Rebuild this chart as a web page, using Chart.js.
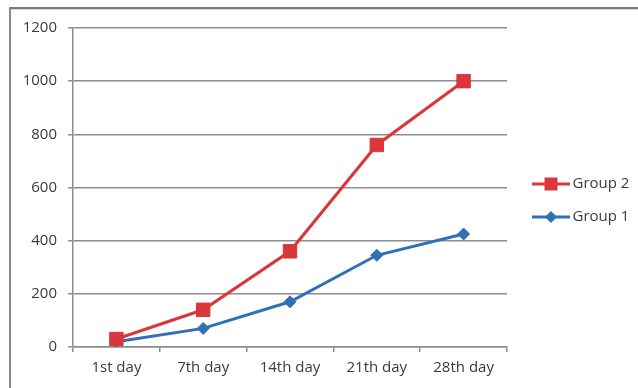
<!DOCTYPE html>
<html>
<head>
<meta charset="utf-8">
<script src="https://cdn.jsdelivr.net/npm/chart.js@4/dist/chart.umd.min.js"></script>
<style>
  html, body { margin: 0; padding: 0; background: #ffffff; }
  #wrap { position: relative; width: 638px; height: 388px; overflow: hidden; }
  #frame {
    position: absolute; left: 9px; top: 7px; width: 700px; height: 420px;
    border-top: 2px solid #7d7d7d; border-left: 2px solid #8a8a8a;
    box-shadow: inset 0 1px 0 #d4d8d8;
  }
  canvas { position: absolute; left: 0; top: 0; }
</style>
</head>
<body>
<div id="wrap">
  <div id="frame"></div>
  <canvas id="c" width="638" height="388"></canvas>
</div>
<script>
// Measurement days and the two groups' values
const days = ['1st day', '7th day', '14th day', '21th day', '28th day'];
const group1 = [20, 70, 170, 345, 425];
const group2 = [30, 140, 360, 760, 1000];
const yTicks = [0, 200, 400, 600, 800, 1000, 1200];

const RED = '#d9373c';
const BLUE = '#2f70b6';
const GRID = '#8e8e8e';
const TEXT = '#3a3a3a';

// Legend swatch: a line with the series marker on it
function swatch(color, kind) {
  const cv = document.createElement('canvas');
  cv.width = 50; cv.height = 16;
  const g = cv.getContext('2d');
  g.strokeStyle = color; g.lineWidth = 3;
  g.beginPath(); g.moveTo(12, 8); g.lineTo(50, 8); g.stroke();
  g.fillStyle = color;
  if (kind === 'rect') {
    g.fillRect(31 - 6.5, 8 - 6.5, 13, 13);
  } else {
    g.beginPath();
    g.moveTo(31, 2); g.lineTo(37, 8); g.lineTo(31, 14); g.lineTo(25, 8);
    g.closePath(); g.fill();
  }
  return cv;
}

Chart.defaults.font.family = "'Open Sans', 'Liberation Sans', sans-serif";
Chart.defaults.font.size = 15;
Chart.defaults.color = TEXT;

new Chart(document.getElementById('c'), {
  type: 'line',
  data: {
    labels: days,
    datasets: [
      {
        label: 'Group 2', data: group2,
        borderColor: RED, backgroundColor: RED, borderWidth: 3,
        pointStyle: 'rect', pointRadius: 9.5, pointBorderWidth: 1,
        pointBackgroundColor: RED, pointBorderColor: RED,
        tension: 0, legendSwatch: swatch(RED, 'rect')
      },
      {
        label: 'Group 1', data: group1,
        borderColor: BLUE, backgroundColor: BLUE, borderWidth: 3,
        pointStyle: 'rectRot', pointRadius: 6, pointBorderWidth: 1,
        pointBackgroundColor: BLUE, pointBorderColor: BLUE,
        tension: 0, legendSwatch: swatch(BLUE, 'diamond')
      }
    ]
  },
  options: {
    responsive: false,
    animation: false,
    events: [],
    layout: { padding: { top: 28, right: 0, bottom: 0, left: 0 } },
    plugins: {
      tooltip: { enabled: false },
      legend: {
        position: 'right',
        fullSize: false,
        maxWidth: 131,
        title: { display: true, text: '', font: { size: 10 }, padding: { top: 14, bottom: 0 } },
        labels: {
          usePointStyle: true,
          pointStyleWidth: 40,
          padding: 18,
          color: TEXT,
          font: { size: 15 },
          generateLabels(chart) {
            return chart.data.datasets.map((ds, i) => ({
              text: ds.label,
              pointStyle: ds.legendSwatch,
              fillStyle: ds.borderColor,
              strokeStyle: ds.borderColor,
              lineWidth: 0,
              hidden: false,
              datasetIndex: i
            }));
          }
        }
      }
    },
    scales: {
      x: {
        offset: true,
        afterFit(s) { s.height = 41; },
        grid: { display: true, drawOnChartArea: false, drawTicks: true, tickLength: 5, offset: true, color: GRID, lineWidth: 1.5 },
        border: { display: true, color: GRID, width: 1.5 },
        ticks: { padding: 7, color: TEXT, maxRotation: 0 }
      },
      y: {
        min: yTicks[0],
        max: yTicks[yTicks.length - 1],
        afterFit(s) { s.width = 73; },
        afterBuildTicks(s) { s.ticks = yTicks.map(v => ({ value: v })); },
        grid: { color: GRID, lineWidth: 1.5, tickLength: 5, drawTicks: true },
        border: { display: true, color: GRID, width: 1.5 },
        ticks: { padding: 11, color: TEXT, callback: v => String(v) }
      }
    }
  }
});
</script>
</body>
</html>
